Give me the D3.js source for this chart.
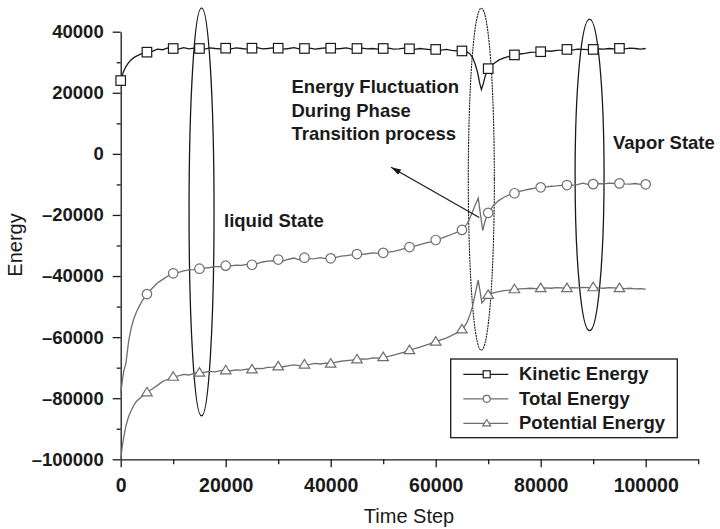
<!DOCTYPE html>
<html>
<head>
<meta charset="utf-8">
<script src="https://cdn.jsdelivr.net/npm/d3@7"></script>
<style>
  body { margin: 0; background: #fff; }
  svg text { font-family: "Liberation Sans", Arial, sans-serif; fill: #1a1a1a; }
</style>
</head>
<body>
<div id="chart"></div>
<script>
// ---- data: [time step, energy]
var kinetic = [
  [0,24000],[500,26800],[1000,28600],[1500,29900],[2000,30800],[2500,31500],[3000,32000],[4000,32800],
  [5000,33300],[6000,33600],[7000,34300],[8000,34100],[9000,34700],[10000,34500],[11000,34300],[12000,34800],
  [13000,34400],[14000,34600],[15000,34500],[16000,34300],[17000,34700],[18000,34500],[19000,34400],[20000,34600],
  [21000,34400],[22000,34700],[23000,34500],[24000,34300],[25000,34600],[26000,34800],[27000,34400],[28000,34500],
  [29000,34700],[30000,34600],[31000,34300],[32000,34500],[33000,34800],[34000,34400],[35000,34500],[36000,34600],
  [37000,34300],[38000,34500],[39000,34700],[40000,34600],[41000,34400],[42000,34500],[43000,34700],[44000,34300],
  [45000,34500],[46000,34600],[47000,34400],[48000,34500],[49000,34300],[50000,34500],[51000,34600],[52000,34300],
  [53000,34400],[54000,34600],[55000,34400],[56000,34200],[57000,34500],[58000,34300],[59000,34100],[60000,34200],
  [61000,34000],[62000,34200],[63000,33900],[64000,33700],[65000,33700],[65500,33500],[66000,33300],[66500,32800],
  [67000,31600],[67500,29500],[68000,26500],[68400,23000],[68700,21100],[69000,22600],[69400,25300],[70000,27900],
  [70500,28900],[71000,29500],[72000,30700],[73000,31400],[74000,31900],[75000,32400],[76000,32700],[77000,32900],
  [78000,33200],[79000,33300],[80000,33450],[81000,33700],[82000,33600],[83000,33900],[84000,34000],[85000,34200],
  [86000,34000],[87000,34300],[88000,34200],[89000,34100],[90000,34200],[91000,34400],[92000,34300],[93000,34500],
  [94000,34400],[95000,34550],[96000,34400],[97000,34600],[98000,34500],[99000,34300],[100000,34500]
];

var total = [
  [0,-78300],[300,-74500],[600,-71000],[1000,-68500],[1500,-61500],[2000,-57000],[2500,-54000],[3000,-51800],
  [3500,-50000],[4000,-48400],[5000,-45900],[6000,-44000],[7000,-42300],[8000,-41100],[9000,-40000],[10000,-39100],
  [11000,-38800],[12000,-38300],[13000,-38000],[14000,-37900],[15000,-37600],[16000,-37400],[17000,-37200],[18000,-36900],
  [19000,-36900],[20000,-36600],[21000,-36700],[22000,-36400],[23000,-36500],[24000,-36200],[25000,-36300],[26000,-35900],
  [27000,-35400],[28000,-35100],[29000,-35000],[30000,-34600],[31000,-35000],[32000,-34500],[33000,-34100],[34000,-34700],
  [35000,-34000],[36000,-34400],[37000,-34300],[38000,-34000],[39000,-34300],[40000,-34200],[41000,-33900],[42000,-33500],
  [43000,-33300],[44000,-33100],[45000,-32800],[46000,-32900],[47000,-32700],[48000,-32400],[49000,-32600],[50000,-32400],
  [51000,-32200],[52000,-31900],[53000,-31500],[54000,-31000],[55000,-30500],[56000,-30200],[57000,-29700],[58000,-29200],
  [59000,-28800],[60000,-28200],[61000,-27700],[62000,-27000],[63000,-26400],[64000,-25700],[65000,-24900],[65500,-24000],
  [66000,-22800],[66500,-21000],[67000,-19000],[67500,-16800],[68100,-14500],[68500,-19500],[68950,-25100],[69400,-22000],
  [70000,-19300],[71000,-16900],[72000,-15300],[73000,-14200],[74000,-13400],[75000,-12900],[76000,-12300],[77000,-11900],
  [78000,-11500],[79000,-11200],[80000,-10950],[81000,-10800],[82000,-10600],[83000,-10500],[84000,-10300],[85000,-10200],
  [86000,-10300],[87000,-10100],[88000,-9600],[89000,-10000],[90000,-9900],[91000,-9700],[92000,-9800],[93000,-9600],
  [94000,-9700],[95000,-9650],[96000,-9800],[97000,-9900],[98000,-9700],[99000,-10000],[100000,-9970]
];

var potential = [
  [0,-100000],[250,-96500],[500,-93500],[1000,-89000],[1500,-86000],[2000,-84000],[2500,-82300],[3000,-81000],
  [4000,-79500],[5000,-78100],[6000,-77000],[7000,-75800],[8000,-74500],[9000,-73800],[10000,-73000],[11000,-72700],
  [12000,-72200],[13000,-72400],[14000,-71800],[15000,-71650],[16000,-71500],[17000,-71200],[18000,-71400],[19000,-71000],
  [20000,-70900],[21000,-71000],[22000,-70700],[23000,-70800],[24000,-70500],[25000,-70600],[26000,-70200],[27000,-70300],
  [28000,-69900],[29000,-69800],[30000,-69600],[31000,-69700],[32000,-69300],[33000,-69100],[34000,-69300],[35000,-69000],
  [36000,-68900],[37000,-68600],[38000,-68800],[39000,-68500],[40000,-68700],[41000,-68200],[42000,-67900],[43000,-67700],
  [44000,-67500],[45000,-67300],[46000,-67100],[47000,-67200],[48000,-66800],[49000,-66900],[50000,-66600],[51000,-66300],
  [52000,-65900],[53000,-65400],[54000,-64900],[55000,-64300],[56000,-63800],[57000,-63300],[58000,-62700],[59000,-62100],
  [60000,-61500],[61000,-60900],[62000,-60300],[63000,-59500],[64000,-58600],[65000,-57500],[65500,-56500],[66000,-55000],
  [66500,-52800],[67000,-50000],[67500,-46000],[68100,-41300],[68500,-45500],[68800,-48800],[69300,-47800],[70000,-46200],
  [71000,-45500],[72000,-45100],[73000,-44800],[74000,-44600],[75000,-44350],[76000,-44200],[77000,-44100],[78000,-44000],
  [79000,-44100],[80000,-44000],[81000,-43900],[82000,-44000],[83000,-43800],[84000,-43900],[85000,-44000],[86000,-43800],
  [87000,-43900],[88000,-43700],[89000,-43800],[90000,-43700],[91000,-43900],[92000,-44000],[93000,-43800],[94000,-43900],
  [95000,-44000],[96000,-44100],[97000,-44000],[98000,-44200],[99000,-44100],[100000,-44250]
];

// steps that carry a symbol
var kinetic_marks   = [0,5000,10000,15000,20000,25000,30000,35000,40000,45000,50000,55000,60000,65000,70000,75000,80000,85000,90000,95000];
var total_marks     = [5000,10000,15000,20000,25000,30000,35000,40000,45000,50000,55000,60000,65000,70000,75000,80000,85000,90000,95000,100000];
var potential_marks = [5000,10000,15000,20000,25000,30000,35000,40000,45000,50000,55000,60000,65000,70000,75000,80000,85000,90000,95000];

var series_names = ['Kinetic Energy', 'Total Energy', 'Potential Energy'];

var x_major = [0, 20000, 40000, 60000, 80000, 100000];
var x_minor = [10000, 30000, 50000, 70000, 90000, 110000];
var y_major = [-100000, -80000, -60000, -40000, -20000, 0, 20000, 40000];
var y_minor = [-90000, -70000, -50000, -30000, -10000, 10000, 30000];

// annotation ellipses: [center step, center energy, half width (steps), half height (energy)]
var ellipses = [
  [15400, -19000, 2380, 66800],
  [68690, -8300, 2480, 56000],
  [89310, -6900, 2760, 51000]
];
// arrow: tail -> head
var arrow_pts = [[68300, -20800], [51500, -4400]];

// ---- chart params
var width = 720, height = 529;
var x0 = 120.7, x1 = 698.2, yTop = 31.7, yBot = 459.3;
var dark = '#1a1a1a', grey = '#6e6e6e';

var svg = d3.select('#chart').append('svg')
    .attr('width', width)
    .attr('height', height);

var x_scale = d3.scaleLinear().domain([0, 110000]).range([x0, x1]);
var y_scale = d3.scaleLinear().domain([-100000, 40000]).range([yBot, yTop]);

var fmt = function(v) { return v < 0 ? '\u2013' + Math.abs(v) : String(v); };

// x axis
var xg = svg.append('g')
    .attr('transform', 'translate(0,' + yBot + ')')
    .call(d3.axisBottom(x_scale).tickValues(x_major).tickSize(8).tickSizeOuter(0).tickPadding(11).tickFormat(fmt));
svg.append('g')
    .attr('transform', 'translate(0,' + yBot + ')')
    .call(d3.axisBottom(x_scale).tickValues(x_minor).tickSize(5).tickSizeOuter(0).tickFormat(''))
    .select('.domain').remove();

// y axis
var yg = svg.append('g')
    .attr('transform', 'translate(' + x0 + ',0)')
    .call(d3.axisLeft(y_scale).tickValues(y_major).tickSize(8).tickSizeOuter(0).tickPadding(9).tickFormat(fmt));
svg.append('g')
    .attr('transform', 'translate(' + x0 + ',0)')
    .call(d3.axisLeft(y_scale).tickValues(y_minor).tickSize(4).tickSizeOuter(0).tickFormat(''))
    .select('.domain').remove();

svg.selectAll('.domain, .tick line').attr('stroke', dark).attr('stroke-width', 1.3);
xg.selectAll('text').attr('font-size', '19.5px').attr('font-weight', 'bold').attr('fill', dark);
yg.selectAll('text').attr('font-size', '18.5px').attr('font-weight', 'bold').attr('fill', dark);

// axis titles
svg.append('text')
    .attr('x', 409).attr('y', 523)
    .attr('text-anchor', 'middle')
    .attr('font-size', '20px')
    .text('Time Step');
svg.append('text')
    .attr('transform', 'translate(22,245) rotate(-90)')
    .attr('text-anchor', 'middle')
    .attr('font-size', '20px')
    .text('Energy');

// ellipses
svg.selectAll('ellipse.ann')
    .data(ellipses)
    .enter()
    .append('ellipse')
    .attr('class', 'ann')
    .attr('cx', function(d) { return x_scale(d[0]); })
    .attr('cy', function(d) { return y_scale(d[1]); })
    .attr('rx', function(d) { return x_scale(d[2]) - x_scale(0); })
    .attr('ry', function(d) { return y_scale(0) - y_scale(d[3]); })
    .attr('fill', 'none')
    .attr('stroke', dark)
    .attr('stroke-width', function(d, i) { return i == 1 ? 1.1 : 1.3; })
    .attr('stroke-dasharray', function(d, i) { return i == 1 ? '2 0.8' : null; });

// lines
var line = d3.line()
    .x(function(d) { return x_scale(d[0]); })
    .y(function(d) { return y_scale(d[1]); });

var all_series = [
  { data: kinetic,   marks: kinetic_marks,   color: dark, shape: 'square' },
  { data: total,     marks: total_marks,     color: grey, shape: 'circle' },
  { data: potential, marks: potential_marks, color: grey, shape: 'triangle' }
];

function drawMarker(g, shape, cx, cy, size, color) {
    if (shape == 'square') {
        g.append('rect')
          .attr('x', cx - size / 2).attr('y', cy - size / 2)
          .attr('width', size).attr('height', size)
          .attr('fill', '#fff').attr('stroke', color).attr('stroke-width', 1.2);
    } else if (shape == 'circle') {
        g.append('circle')
          .attr('cx', cx).attr('cy', cy).attr('r', size / 2)
          .attr('fill', '#fff').attr('stroke', color).attr('stroke-width', 1.2);
    } else {
        var h = size * 0.9;
        g.append('path')
          .attr('d', 'M' + cx + ',' + (cy - h * 0.6) + 'L' + (cx + size / 2 + 0.5) + ',' + (cy + h * 0.4)
                + 'L' + (cx - size / 2 - 0.5) + ',' + (cy + h * 0.4) + 'Z')
          .attr('fill', '#fff').attr('stroke', color).attr('stroke-width', 1.2);
    }
}

all_series.forEach(function(s) {
    svg.append('path')
        .datum(s.data)
        .attr('d', line)
        .attr('fill', 'none')
        .attr('stroke', s.color)
        .attr('stroke-width', 1.3);
    var g = svg.append('g');
    var lookup = new Map(s.data.map(function(d) { return [d[0], d[1]]; }));
    s.marks.forEach(function(step) {
        drawMarker(g, s.shape, x_scale(step), y_scale(lookup.get(step)), 9.5, s.color);
    });
});

// arrow
svg.append('defs').append('marker')
    .attr('id', 'head')
    .attr('viewBox', '0 0 10 6')
    .attr('refX', 10).attr('refY', 3)
    .attr('markerWidth', 10).attr('markerHeight', 6)
    .attr('markerUnits', 'userSpaceOnUse')
    .attr('orient', 'auto')
    .append('path')
    .attr('d', 'M0,0L10,3L0,6Z')
    .attr('fill', dark);

svg.append('line')
    .attr('x1', x_scale(arrow_pts[0][0])).attr('y1', y_scale(arrow_pts[0][1]))
    .attr('x2', x_scale(arrow_pts[1][0])).attr('y2', y_scale(arrow_pts[1][1]))
    .attr('stroke', dark)
    .attr('stroke-width', 1.2)
    .attr('marker-end', 'url(#head)');

// annotation text
var notes = svg.append('g').attr('font-weight', 'bold').attr('font-size', '18.5px');
['Energy Fluctuation', 'During Phase', 'Transition process'].forEach(function(t, i) {
    notes.append('text').attr('x', 291.5).attr('y', 93.3 + i * 23.4).text(t);
});
notes.append('text').attr('x', 224).attr('y', 227).text('liquid State');
notes.append('text').attr('x', 613).attr('y', 149).text('Vapor State');

// legend
var legend = svg.append('g');
legend.append('rect')
    .attr('x', 450.7).attr('y', 359)
    .attr('width', 226.6).attr('height', 78.7)
    .attr('fill', '#fff')
    .attr('stroke', dark)
    .attr('stroke-width', 1.3);

all_series.forEach(function(s, i) {
    var ly = 374.3 + i * 24.5;
    legend.append('line')
        .attr('x1', 463.3).attr('x2', 508.3)
        .attr('y1', ly).attr('y2', ly)
        .attr('stroke', s.color).attr('stroke-width', 1.3);
    drawMarker(legend, s.shape, 486.7, ly, 7, s.color);
    legend.append('text')
        .attr('x', 519).attr('y', ly + 6)
        .attr('font-size', '18.5px')
        .attr('font-weight', 'bold')
        .text(series_names[i]);
});
</script>
</body>
</html>
